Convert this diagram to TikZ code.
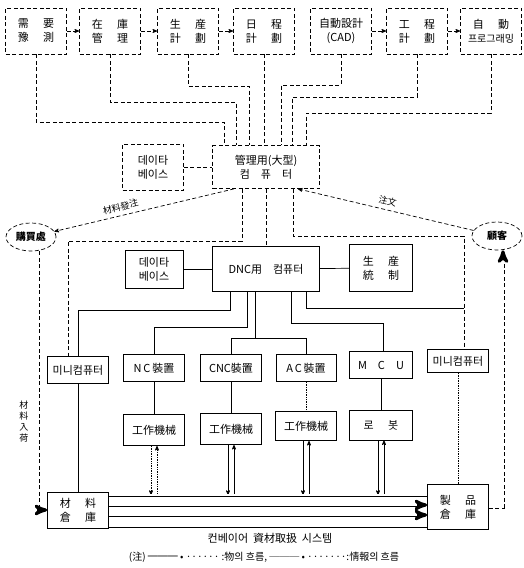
\documentclass[tikz,border=0pt]{standalone}
\usepackage{fontspec}
\setmainfont{Noto Sans CJK KR}
\usepackage{tikz}
\usetikzlibrary{shapes,positioning,arrows,calc}
\tikzset{>=stealth'}
\tikzset{info/.style={dash pattern=on 4pt off 2.5pt},
         matl/.style={double,double distance=2pt,line width=.5pt}}
\newcommand{\drawdash}[1][]{\node[draw,info,align=center,minimum width=61pt,minimum height=46pt,inner sep=1pt,#1]}
\newcommand{\drawbox}[1][]{\node[draw,align=center,minimum width=61pt,minimum height=27pt,inner sep=1pt,#1]}
\newcommand{\drawoval}{\node[draw,info,ellipse,minimum width=50pt,minimum height=28pt,inner sep=0,font=\bfseries]}
\newcommand{\gap}{\hspace{1.3em}}

\begin{document}
\begin{tikzpicture}[x=1pt,y=-1pt,line width=.7pt,font=\fontsize{11}{14}\selectfont]
	\useasboundingbox (0,0) rectangle (523,568);
	
	% planning row
	\drawdash (b1) at (36,31) {需\gap 要\\豫\gap 測};
	\drawdash (b2) at (110,31) {在\gap 庫\\管\gap 理};
	\drawdash (b3) at (188,31) {生\gap 産\\計\gap 劃};
	\drawdash (b4) at (264,31) {日\gap 程\\計\gap 劃};
	\drawdash (b5) at (341,31) {自動設計\\(CAD)};
	\drawdash (b6) at (417,31) {工\gap 程\\計\gap 劃};
	\drawdash (b7) at (491,31) {自\gap 動\\{\fontsize{10}{14}\selectfont 프로그래밍}};
	
	\drawdash (db1) at (153,167) {데이타\\베이스};
	\drawdash[minimum width=107pt,minimum height=43pt] (mg) at (266,167) {管理用(大型)\\컴\quad 퓨\quad 터};
	\drawoval (pur) at (31,237) {購買處};
	\drawoval (cus) at (497,236) {顧客};
	
	\drawbox[minimum width=58pt,minimum height=38pt] (db2) at (154,269) {데이타\\베이스};
	\drawbox[minimum width=107pt,minimum height=45pt] (dnc) at (266,269) {DNC用\quad 컴퓨터};
	\drawbox[minimum width=63pt,minimum height=47pt] (pc) at (381,268) {生\gap 産\\統\gap 制};
	
	% control row
	\drawbox (m1) at (78,370) {미니컴퓨터};
	\drawbox (nc) at (154,368) {N\,C\,裝置};
	\drawbox (cnc) at (231,368) {CNC裝置};
	\drawbox[minimum width=60pt] (ac) at (306,368) {A\,C\,裝置};
	\drawbox[minimum width=63pt] (mcu) at (381,365) {M\quad C\quad U};
	\drawbox[minimum height=23pt] (m2) at (458,361) {미니컴퓨터};
	
	\drawbox[minimum height=31pt] (t1) at (154,430) {工作機械};
	\drawbox[minimum height=31pt] (t2) at (231,429) {工作機械};
	\drawbox[minimum height=29pt] (t3) at (306,426) {工作機械};
	\drawbox[minimum width=63pt,minimum height=30pt] (rb) at (381,425) {로\gap 봇};
	
	\drawbox[minimum height=36pt] (mw) at (78,510) {材\gap 料\\倉\gap 庫};
	\drawbox[minimum height=45pt] (pw) at (458,507) {製\gap 品\\倉\gap 庫};
	
	\node (cs) at (270,538) {컨베이어\ \ 資材取扱\ \ 시스템};
	\node[font=\fontsize{10}{12}\selectfont] (lg) at (264,557) {(注) ═══ • ······ :物의 흐름, ─── • ·······:情報의 흐름};
	
	\coordinate (c1) at (0,495);
	\coordinate (c2) at (0,505);
	\coordinate (c3) at (0,515);
	\coordinate (c4) at (0,526);
	\coordinate (j2) at (464,308);
	
	% planning -> management computer
	\draw[info,->] (b1) -- (b2);
	\draw[info,->] (b2) -- (b3);
	\draw[info,->] (b3) -- (b4);
	\draw[info,->] (b5) -- (b6);
	\draw[info,->] (b6) -- (b7);
	\draw[info] (b1) -- ++(0,91) -| ([xshift=12pt]mg.north west);
	\draw[info] (b2) -- ++(0,71) -| ([xshift=24pt]mg.north west);
	\draw[info] (b3) -- ++(0,55) -| ([xshift=37pt]mg.north west);
	\draw[info] (b4) -- (b4 |- mg.north);
	\draw[info] (b5) -- ++(0,54) -| ([xshift=69pt]mg.north west);
	\draw[info] (b6) -- ++(0,66) -| ([xshift=80pt]mg.north west);
	\draw[info] (b7) -- ++(0,82) -| ([xshift=94pt]mg.north west);
	\draw[info] (db1) -- (mg);
	
	\draw[info,->] ([xshift=22pt]mg.south west) -- (pur) node[pos=.62,above=1pt,sloped,font=\small] {材料發注};
	\draw[info,->] (cus) -- ([xshift=-22pt]mg.south east) node[pos=.5,above=1pt,sloped,font=\small] {注文};
	\draw[info] (mg) -- (dnc);
	\draw[info] ([xshift=30pt]mg.south west) -- ++(0,52) -| ([xshift=-10pt]m1.north);
	\draw[info] ([xshift=-27pt]mg.south east) -- ++(0,47) -| ([xshift=6pt]m2.north);
	
	% DNC links
	\draw (db2) -- (dnc);
	\draw (dnc) -- (pc);
	\draw ([xshift=18pt]dnc.south west) -- ++(0,18) -| (m1.north);
	\draw ([xshift=35pt]dnc.south west) -- ++(0,35) -| (nc.north);
	\draw ([xshift=43pt]dnc.south west) -- ++(0,46) coordinate (j3);
	\draw (cnc.north) |- (j3) -| (ac.north);
	\draw ([xshift=79pt]dnc.south west) -- ++(0,31) -| ([xshift=2pt]mcu.north);
	\draw ([xshift=94pt]dnc.south west) |- (j2);
	
	\draw (nc) -- (t1);
	\draw (cnc) -- (t2);
	\draw[densely dotted] (ac) -- (t3);
	\draw (mcu) -- (rb);
	\draw (m1) -- (mw);
	\draw[densely dotted] (m2) -- (pw);
	
	% machines <-> conveyor
	\draw[densely dotted,->] ([xshift=-3pt]t1.south) -- ([xshift=-3pt]t1.south |- c1);
	\draw[densely dotted,->] ([xshift=3pt]t1.south |- c1) -- ([xshift=3pt]t1.south);
	\draw[->] ([xshift=-3pt]t2.south) -- ([xshift=-3pt]t2.south |- c1);
	\draw[->] ([xshift=3pt]t2.south |- c1) -- ([xshift=3pt]t2.south);
	\draw[->] ([xshift=-3pt]t3.south) -- ([xshift=-3pt]t3.south |- c1);
	\draw[->] ([xshift=3pt]t3.south |- c1) -- ([xshift=3pt]t3.south);
	\draw[->] ([xshift=-3pt]rb.south) -- ([xshift=-3pt]rb.south |- c1);
	\draw[->] ([xshift=3pt]rb.south |- c1) -- ([xshift=3pt]rb.south);
	
	% conveyor
	\draw[matl] (mw.east |- c1) -- (pw.west |- c1);
	\draw[matl,->] (mw.east |- c2) -- (pw.west |- c2);
	\draw[matl,->] (mw.east |- c3) -- (pw.west |- c3);
	\draw[matl] (mw.east |- c4) -- (pw.west |- c4);
	
	\draw[matl,info,->] ([xshift=7pt]pur.south) |- (mw.west) node[pos=.33,left=6pt,align=center,font=\small] {材\\料\\入\\荷};
	\draw[matl,info,->] (pw.east) -| ([xshift=6pt]cus.south);
	
\end{tikzpicture}
\end{document}
